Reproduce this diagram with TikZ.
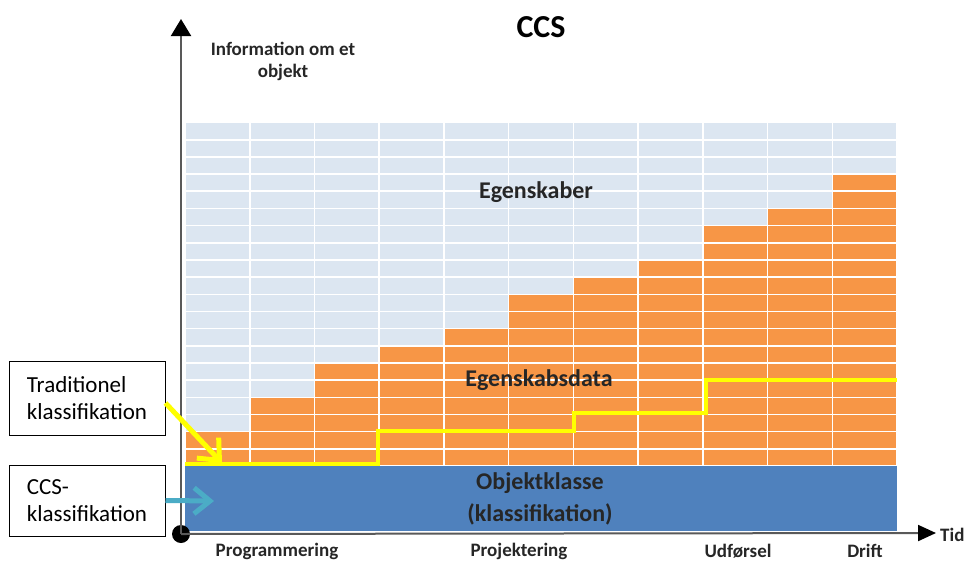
\documentclass[tikz,border=0pt]{standalone}
\usepackage{fontspec}
\setmainfont{Carlito}
\setsansfont{Carlito}
\usetikzlibrary{arrows.meta}
\definecolor{cellblue}{HTML}{DCE6F1}
\definecolor{cellorange}{HTML}{F79646}
\definecolor{classblue}{HTML}{4F81BD}
\definecolor{tradyellow}{HTML}{FFFF00}
\definecolor{ccsteal}{HTML}{4BACC6}
\definecolor{labelgray}{HTML}{262626}
\newcommand{\colw}{64.73}
\newcommand{\rowh}{17.17}

\begin{document}
\begin{tikzpicture}[x=1pt, y=-1pt, font=\sffamily,
	cell/.style={draw=white, line width=1.6pt},
	axisline/.style={draw=gray!70!black, line width=2pt},
	infobox/.style={draw=black, line width=1pt, minimum width=156pt, align=left,
		font=\sffamily\fontsize{23}{26.5}\selectfont},
	fieldlabel/.style={font=\sffamily\bfseries\fontsize{24}{32}\selectfont, text=labelgray, align=center},
	phaselabel/.style={font=\sffamily\bfseries\fontsize{19}{21}\selectfont, text=labelgray}
	]
	\useasboundingbox (0,0) rectangle (966,562);
	%grid
	\foreach \c in {0,...,10}
	\foreach \r in {1,...,20}
	\filldraw[cell, fill=cellblue] (185+\c*\colw, 466-\r*\rowh+\rowh) rectangle ++(\colw,-\rowh);
	\foreach \c/\h in {0/2,1/4,2/6,3/7,4/8,5/10,6/11,7/12,8/14,9/15,10/17}
	\foreach \r in {1,...,\h}
	\filldraw[cell, fill=cellorange] (185+\c*\colw, 466-\r*\rowh+\rowh) rectangle ++(\colw,-\rowh);
	%class
	\fill[classblue] (185,466) rectangle (897,531);
	\draw[tradyellow, line width=4pt] (185,464) -- (378,464) -- (378,431) -- (574,431)
		-- (574,413) -- (706,413) -- (706,380) -- (897,380);
	%axis
	\node[circle, fill=black, minimum size=18pt, inner sep=0pt] (origin) at (181,534) {};
	\coordinate (ytip) at (181,19);
	\coordinate (xtip) at (936,533);
	\draw[axisline, -{Triangle[length=17pt, width=20pt, color=black]}] (origin.center) -- (ytip);
	\draw[axisline, -{Triangle[length=18pt, width=16pt, color=black]}] (origin.center) -- (xtip);
	%labels
	\node[font=\sffamily\bfseries\fontsize{32}{34}\selectfont] (title) at (541,27) {CCS};
	\node[font=\sffamily\bfseries\fontsize{19}{22}\selectfont, text=labelgray, align=center] (ylabel) at (283,61) {Information om et\\objekt};
	\node[fieldlabel] (egenskaber) at (536,192) {Egenskaber};
	\node[fieldlabel] (egenskabsdata) at (539,380) {Egenskabsdata};
	\node[fieldlabel] (objektklasse) at (540,499) {Objektklasse\\(klassifikation)};
	\node[phaselabel] (programmering) at (277,551) {Programmering};
	\node[phaselabel] (projektering) at (519,551) {Projektering};
	\node[phaselabel] (udfoersel) at (738,551) {Udførsel};
	\node[phaselabel] (drift) at (865,551) {Drift};
	\node[phaselabel, anchor=west, inner sep=1pt] (tid) at (939,535) {Tid};
	%boxes
	\node[infobox, minimum height=74pt] (trad) at (87,398) {Traditionel\\klassifikation};
	\node[infobox, minimum height=71pt] (ccs) at (87,500.5) {CCS-\\klassifikation};
	\coordinate (tradtip) at (222,463);
	\coordinate (ccstip) at (214,501);
	\draw[tradyellow, line width=5pt, -{Straight Barb[length=17pt, width=30pt]}] ([yshift=-5pt]trad.east) -- (tradtip);
	\draw[ccsteal, line width=5pt, -{Straight Barb[length=16pt, width=26pt]}] (ccs.east) -- (ccstip);
\end{tikzpicture}
\end{document}
